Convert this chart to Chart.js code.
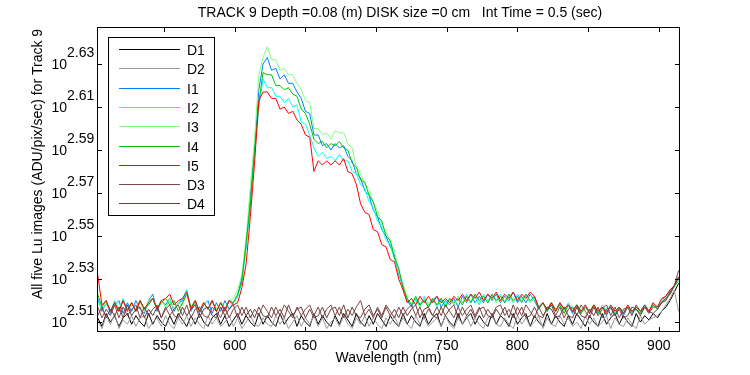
<!DOCTYPE html>
<html lang="en">
<head>
<meta charset="UTF-8">
<title>TRACK 9 Lu images</title>
<script src="https://cdn.jsdelivr.net/npm/chart.js"></script>
<style>
  body { margin: 0; background: #fff; }
  #wrap { width: 750px; height: 375px; }
</style>
</head>
<body>
<div id="wrap"><canvas id="luChart" width="750" height="375"></canvas></div>
<script>
// wavelength grid (nm)
const wavelengths = [503, 506, 509, 512, 515, 518, 521, 524, 527, 530, 533, 536, 539, 542, 545, 548, 551, 554, 557, 560,
  563, 566, 569, 572, 575, 578, 581, 584, 587, 590, 593, 596, 599, 602, 605, 608, 611, 614, 617, 620,
  623, 626, 629, 632, 635, 638, 641, 644, 647, 650, 653, 656, 659, 662, 665, 668, 671, 674, 677, 680,
  683, 686, 689, 692, 695, 698, 701, 704, 707, 710, 713, 716, 719, 722, 725, 728, 731, 734, 737, 740,
  743, 746, 749, 752, 755, 758, 761, 764, 767, 770, 773, 776, 779, 782, 785, 788, 791, 794, 797, 800,
  803, 806, 809, 812, 815, 818, 821, 824, 827, 830, 833, 836, 839, 842, 845, 848, 851, 854, 857, 860,
  863, 866, 869, 872, 875, 878, 881, 884, 887, 890, 893, 896, 899, 902, 905, 908, 911, 914];

// values, as log10 exponents
const d1 = [2.512, 2.508, 2.514, 2.510, 2.513, 2.508, 2.512, 2.514, 2.509, 2.513,
  2.510, 2.508, 2.514, 2.509, 2.513, 2.510, 2.508, 2.513, 2.509, 2.514,
  2.511, 2.508, 2.513, 2.509, 2.514, 2.510, 2.508, 2.512, 2.514, 2.509,
  2.513, 2.508, 2.511, 2.514, 2.509, 2.513, 2.510, 2.508, 2.514, 2.509,
  2.513, 2.510, 2.508, 2.514, 2.509, 2.512, 2.514, 2.508, 2.513, 2.510,
  2.508, 2.514, 2.509, 2.513, 2.510, 2.508, 2.513, 2.509, 2.514, 2.511,
  2.508, 2.514, 2.510, 2.508, 2.513, 2.509, 2.514, 2.511, 2.508, 2.513,
  2.510, 2.508, 2.514, 2.509, 2.513, 2.510, 2.508, 2.514, 2.509, 2.512,
  2.514, 2.508, 2.513, 2.510, 2.508, 2.514, 2.509, 2.512, 2.514, 2.509,
  2.513, 2.510, 2.508, 2.514, 2.509, 2.513, 2.511, 2.508, 2.514, 2.509,
  2.512, 2.514, 2.508, 2.513, 2.510, 2.508, 2.514, 2.509, 2.513, 2.510,
  2.508, 2.513, 2.509, 2.514, 2.511, 2.508, 2.513, 2.510, 2.508, 2.514,
  2.509, 2.512, 2.514, 2.509, 2.513, 2.510, 2.508, 2.514, 2.510, 2.513,
  2.511, 2.514, 2.512, 2.515, 2.517, 2.520, 2.524, 2.528];
const d2 = [2.511, 2.507, 2.513, 2.509, 2.514, 2.507, 2.511, 2.509, 2.513, 2.508,
  2.512, 2.513, 2.507, 2.510, 2.512, 2.508, 2.513, 2.509, 2.507, 2.512,
  2.509, 2.513, 2.508, 2.512, 2.509, 2.507, 2.513, 2.509, 2.512, 2.508,
  2.510, 2.513, 2.508, 2.512, 2.507, 2.510, 2.513, 2.509, 2.508, 2.512,
  2.509, 2.508, 2.513, 2.509, 2.512, 2.507, 2.510, 2.513, 2.508, 2.512,
  2.509, 2.513, 2.508, 2.512, 2.507, 2.510, 2.512, 2.508, 2.513, 2.509,
  2.507, 2.512, 2.509, 2.513, 2.508, 2.512, 2.509, 2.507, 2.512, 2.509,
  2.513, 2.508, 2.512, 2.509, 2.507, 2.513, 2.509, 2.512, 2.508, 2.510,
  2.512, 2.508, 2.513, 2.509, 2.507, 2.512, 2.509, 2.513, 2.508, 2.512,
  2.509, 2.507, 2.512, 2.513, 2.509, 2.508, 2.512, 2.509, 2.507, 2.513,
  2.509, 2.512, 2.508, 2.510, 2.513, 2.507, 2.512, 2.509, 2.508, 2.513,
  2.509, 2.512, 2.508, 2.510, 2.507, 2.513, 2.509, 2.512, 2.508, 2.510,
  2.513, 2.507, 2.512, 2.509, 2.508, 2.512, 2.509, 2.507, 2.513, 2.509,
  2.511, 2.512, 2.513, 2.515, 2.518, 2.521, 2.525, 2.515];
const i1 = [2.521, 2.515, 2.519, 2.514, 2.518, 2.520, 2.514, 2.519, 2.515, 2.520,
  2.516, 2.514, 2.520, 2.523, 2.515, 2.520, 2.518, 2.521, 2.515, 2.519,
  2.520, 2.525, 2.515, 2.519, 2.514, 2.518, 2.520, 2.514, 2.519, 2.515,
  2.520, 2.516, 2.519,
  2.522, 2.531, 2.545, 2.569, 2.590, 2.618, 2.630, 2.633, 2.627, 2.628,
  2.623, 2.625, 2.621, 2.621, 2.617, 2.614, 2.608, 2.607, 2.597, 2.597,
  2.592, 2.593, 2.590, 2.593, 2.591, 2.592, 2.587, 2.585, 2.579, 2.577,
  2.571, 2.569, 2.562, 2.559, 2.553, 2.550, 2.545, 2.541, 2.532, 2.527,
  2.520, 2.517, 2.521, 2.518, 2.521, 2.517, 2.520, 2.522, 2.517, 2.520,
  2.518, 2.521, 2.517, 2.522, 2.519, 2.523, 2.519, 2.522, 2.519, 2.523,
  2.520, 2.523, 2.519, 2.522, 2.520, 2.524, 2.519, 2.522, 2.519, 2.523,
  2.520, 2.516, 2.519, 2.515, 2.518, 2.515, 2.519, 2.516, 2.518, 2.514,
  2.518, 2.515, 2.517, 2.514, 2.518, 2.515, 2.517, 2.513, 2.517, 2.514,
  2.517, 2.513, 2.517, 2.514, 2.516, 2.514, 2.518, 2.515, 2.518, 2.517,
  2.520, 2.522, 2.525, 2.527, 2.531];
const i2 = [2.520, 2.516, 2.519, 2.515, 2.520, 2.516, 2.521, 2.515, 2.519, 2.516,
  2.520, 2.515, 2.519, 2.521, 2.516, 2.520, 2.517, 2.520, 2.516, 2.519,
  2.521, 2.525, 2.516, 2.520, 2.515, 2.519, 2.516, 2.520, 2.515, 2.519,
  2.516, 2.520, 2.519,
  2.522, 2.528, 2.545, 2.564, 2.588, 2.610, 2.623, 2.619, 2.619, 2.615,
  2.615, 2.612, 2.614, 2.610, 2.611, 2.603, 2.602, 2.597, 2.591, 2.587,
  2.589, 2.586, 2.587, 2.585, 2.588, 2.585, 2.585, 2.580, 2.579, 2.574,
  2.572, 2.566, 2.563, 2.557, 2.554, 2.548, 2.546, 2.539, 2.534, 2.525,
  2.521, 2.518, 2.521, 2.517, 2.522, 2.518, 2.521, 2.517, 2.521, 2.518,
  2.521, 2.518, 2.522, 2.519, 2.523, 2.519, 2.522, 2.518, 2.523, 2.519,
  2.522, 2.520, 2.523, 2.519, 2.522, 2.519, 2.523, 2.520, 2.522, 2.519,
  2.522, 2.517, 2.519, 2.516, 2.519, 2.515, 2.518, 2.515, 2.519, 2.516,
  2.517, 2.514, 2.518, 2.515, 2.517, 2.514, 2.518, 2.515, 2.516, 2.514,
  2.517, 2.515, 2.517, 2.514, 2.517, 2.515, 2.518, 2.515, 2.519, 2.516,
  2.519, 2.521, 2.524, 2.526, 2.530];
const i3 = [2.519, 2.516, 2.519, 2.515, 2.519, 2.516, 2.520, 2.515, 2.518, 2.516,
  2.519, 2.515, 2.520, 2.521, 2.516, 2.520, 2.517, 2.521, 2.516, 2.519,
  2.518, 2.523, 2.516, 2.519, 2.515, 2.519, 2.516, 2.520, 2.516, 2.519,
  2.516, 2.520, 2.521,
  2.525, 2.532, 2.549, 2.573, 2.595, 2.625, 2.633, 2.638, 2.632, 2.632,
  2.627, 2.628, 2.625, 2.625, 2.621, 2.618, 2.613, 2.612, 2.600, 2.600,
  2.597, 2.598, 2.595, 2.599, 2.598, 2.598, 2.593, 2.591, 2.582, 2.579,
  2.574, 2.572, 2.565, 2.562, 2.555, 2.552, 2.547, 2.543, 2.533, 2.528,
  2.521, 2.518, 2.520, 2.517, 2.521, 2.518, 2.521, 2.518, 2.520, 2.517,
  2.521, 2.518, 2.522, 2.519, 2.522, 2.520, 2.523, 2.519, 2.522, 2.520,
  2.523, 2.519, 2.522, 2.520, 2.523, 2.519, 2.522, 2.520, 2.523, 2.519,
  2.521, 2.517, 2.519, 2.516, 2.519, 2.515, 2.518, 2.515, 2.518, 2.516,
  2.518, 2.515, 2.517, 2.514, 2.518, 2.515, 2.517, 2.514, 2.517, 2.515,
  2.516, 2.514, 2.517, 2.515, 2.517, 2.514, 2.517, 2.515, 2.518, 2.517,
  2.520, 2.521, 2.524, 2.526, 2.530];
const i4 = [2.523, 2.517, 2.520, 2.515, 2.519, 2.515, 2.520, 2.516, 2.519, 2.515,
  2.520, 2.516, 2.518, 2.521, 2.516, 2.519, 2.521, 2.518, 2.520, 2.515,
  2.519, 2.523, 2.517, 2.520, 2.515, 2.519, 2.516, 2.520, 2.515, 2.519,
  2.516, 2.520, 2.519,
  2.523, 2.529, 2.547, 2.565, 2.590, 2.612, 2.626, 2.625, 2.625, 2.620,
  2.620, 2.618, 2.619, 2.616, 2.615, 2.609, 2.607, 2.602, 2.595, 2.593,
  2.594, 2.591, 2.593, 2.592, 2.594, 2.591, 2.590, 2.584, 2.582, 2.576,
  2.575, 2.569, 2.566, 2.559, 2.557, 2.550, 2.548, 2.540, 2.535, 2.526,
  2.521, 2.518, 2.522, 2.518, 2.520, 2.517, 2.521, 2.518, 2.521, 2.517,
  2.521, 2.519, 2.521, 2.518, 2.522, 2.519, 2.523, 2.520, 2.522, 2.519,
  2.523, 2.520, 2.522, 2.519, 2.523, 2.520, 2.522, 2.519, 2.523, 2.520,
  2.522, 2.516, 2.519, 2.515, 2.519, 2.516, 2.518, 2.514, 2.518, 2.515,
  2.518, 2.514, 2.517, 2.515, 2.518, 2.514, 2.517, 2.515, 2.517, 2.513,
  2.517, 2.514, 2.517, 2.515, 2.516, 2.514, 2.517, 2.515, 2.518, 2.516,
  2.519, 2.521, 2.523, 2.527, 2.529];
const i5 = [2.532, 2.518, 2.520, 2.515, 2.519, 2.515, 2.520, 2.515, 2.519, 2.515,
  2.520, 2.516, 2.519, 2.521, 2.516, 2.520, 2.521, 2.523, 2.518, 2.520,
  2.521, 2.524, 2.516, 2.520, 2.515, 2.519, 2.516, 2.520, 2.515, 2.519,
  2.515, 2.520, 2.518,
  2.519, 2.526, 2.537, 2.559, 2.584, 2.613, 2.617, 2.617, 2.614, 2.614,
  2.609, 2.610, 2.607, 2.608, 2.604, 2.602, 2.597, 2.596, 2.580, 2.585,
  2.583, 2.585, 2.583, 2.585, 2.583, 2.586, 2.580, 2.579, 2.574, 2.565,
  2.561, 2.560, 2.553, 2.552, 2.546, 2.545, 2.539, 2.538, 2.530, 2.525,
  2.519, 2.521, 2.518, 2.522, 2.519, 2.522, 2.519, 2.522, 2.519, 2.521,
  2.519, 2.522, 2.520, 2.523, 2.520, 2.523, 2.521, 2.524, 2.520, 2.523,
  2.521, 2.524, 2.520, 2.523, 2.521, 2.524, 2.520, 2.523, 2.521, 2.524,
  2.522, 2.517, 2.519, 2.516, 2.519, 2.515, 2.519, 2.516, 2.518, 2.515,
  2.518, 2.515, 2.518, 2.514, 2.518, 2.515, 2.517, 2.514, 2.518, 2.515,
  2.517, 2.514, 2.518, 2.515, 2.517, 2.515, 2.518, 2.515, 2.519, 2.517,
  2.521, 2.522, 2.525, 2.527, 2.531];
const d3 = [2.517, 2.512, 2.516, 2.513, 2.518, 2.512, 2.517, 2.513, 2.516, 2.518,
  2.512, 2.517, 2.513, 2.516, 2.518, 2.512, 2.517, 2.513, 2.516, 2.518,
  2.513, 2.518, 2.512, 2.516, 2.517, 2.513, 2.512, 2.517, 2.515, 2.512,
  2.517, 2.512, 2.516, 2.518, 2.513, 2.517, 2.512, 2.516, 2.513, 2.518,
  2.515, 2.512, 2.517, 2.513, 2.518, 2.515, 2.512, 2.517, 2.513, 2.516,
  2.518, 2.513, 2.517, 2.512, 2.516, 2.518, 2.513, 2.517, 2.512, 2.516,
  2.513, 2.517, 2.520, 2.513, 2.516, 2.512, 2.517, 2.513, 2.518, 2.515,
  2.512, 2.517, 2.513, 2.516, 2.518, 2.513, 2.517, 2.512, 2.516, 2.513,
  2.517, 2.513, 2.518, 2.515, 2.512, 2.517, 2.513, 2.516, 2.518, 2.513,
  2.517, 2.512, 2.516, 2.513, 2.517, 2.518, 2.513, 2.516, 2.512, 2.517,
  2.513, 2.518, 2.515, 2.512, 2.517, 2.513, 2.516, 2.518, 2.513, 2.517,
  2.512, 2.516, 2.517, 2.513, 2.518, 2.515, 2.512, 2.517, 2.513, 2.516,
  2.518, 2.513, 2.517, 2.512, 2.516, 2.517, 2.513, 2.518, 2.515, 2.517,
  2.514, 2.517, 2.517, 2.519, 2.521, 2.523, 2.527, 2.534];
const d4 = [2.513, 2.517, 2.512, 2.516, 2.513, 2.517, 2.512, 2.518, 2.513, 2.516,
  2.517, 2.512, 2.516, 2.513, 2.517, 2.512, 2.516, 2.518, 2.513, 2.512,
  2.517, 2.513, 2.516, 2.518, 2.512, 2.516, 2.517, 2.513, 2.512, 2.517,
  2.513, 2.516, 2.518, 2.512, 2.517, 2.513, 2.516, 2.512, 2.517, 2.513,
  2.512, 2.517, 2.513, 2.516, 2.512, 2.518, 2.513, 2.516, 2.517, 2.512,
  2.516, 2.512, 2.513, 2.517, 2.512, 2.516, 2.517, 2.513, 2.518, 2.512,
  2.517, 2.513, 2.512, 2.516, 2.518, 2.513, 2.516, 2.512, 2.517, 2.513,
  2.516, 2.512, 2.517, 2.513, 2.516, 2.518, 2.512, 2.516, 2.517, 2.513,
  2.512, 2.517, 2.513, 2.516, 2.518, 2.512, 2.517, 2.513, 2.516, 2.512,
  2.516, 2.517, 2.513, 2.512, 2.516, 2.513, 2.517, 2.512, 2.518, 2.513,
  2.517, 2.512, 2.513, 2.517, 2.513, 2.512, 2.517, 2.516, 2.512, 2.513,
  2.517, 2.513, 2.512, 2.517, 2.513, 2.512, 2.516, 2.513, 2.517, 2.512,
  2.516, 2.517, 2.513, 2.516, 2.512, 2.513, 2.517, 2.516, 2.513, 2.517,
  2.515, 2.514, 2.516, 2.519, 2.520, 2.524, 2.527, 2.531];

const seriesNames = ['D1', 'D2', 'I1', 'I2', 'I3', 'I4', 'I5', 'D3', 'D4'];
const seriesExps = [d1, d2, i1, i2, i3, i4, i5, d3, d4];
const seriesColors = ['#000000', '#999999', '#0080ff', '#00ffff', '#80ff80', '#00c000', '#ff0000', '#7f4646', '#703c3c'];

const xTicks = [550, 600, 650, 700, 750, 800, 850, 900];
const yTickExps = [2.51, 2.53, 2.55, 2.57, 2.59, 2.61, 2.63];
const yTickLabels = ['2.51', '2.53', '2.55', '2.57', '2.59', '2.61', '2.63'];

const titleText = 'TRACK 9 Depth =0.08 (m) DISK size =0 cm   Int Time = 0.5 (sec)';
const yTitle = 'All five Lu images (ADU/pix/sec) for Track 9';
const xTitle = 'Wavelength (nm)';

const FAMILY = '"Liberation Sans", Arial, Helvetica, sans-serif';
Chart.defaults.font.family = FAMILY;
Chart.defaults.font.size = 14;
Chart.defaults.color = '#000';

// box, inward ticks, y labels with superscript, titles and legend (matlab look)
const matlabFrame = {
  id: 'matlabFrame',
  afterDraw(chart) {
    const { ctx, chartArea: a, scales: { x, y } } = chart;
    ctx.save();
    ctx.strokeStyle = '#000';
    ctx.lineWidth = 1;
    ctx.strokeRect(a.left + 0.5, a.top + 0.5, a.right - a.left - 1, a.bottom - a.top - 1);

    ctx.beginPath();
    xTicks.forEach(v => {
      const px = Math.round(x.getPixelForValue(v)) + 0.5;
      ctx.moveTo(px, a.bottom); ctx.lineTo(px, a.bottom - 5);
      ctx.moveTo(px, a.top); ctx.lineTo(px, a.top + 5);
    });
    yTickExps.forEach(e => {
      const py = Math.round(y.getPixelForValue(10 ** e)) + 0.5;
      ctx.moveTo(a.left, py); ctx.lineTo(a.left + 5, py);
      ctx.moveTo(a.right, py); ctx.lineTo(a.right - 5, py);
    });
    ctx.stroke();

    ctx.fillStyle = '#000';
    ctx.font = '14px ' + FAMILY;
    ctx.textBaseline = 'alphabetic';
    yTickExps.forEach((e, k) => {
      const py = y.getPixelForValue(10 ** e);
      ctx.textAlign = 'right';
      ctx.fillText('10', 67, py + 5);
      ctx.textAlign = 'left';
      ctx.fillText(yTickLabels[k], 67, py - 7);
    });

    // title
    ctx.textAlign = 'center';
    ctx.fillText(titleText, 400, 17);

    // y axis title
    ctx.save();
    ctx.translate(42, 164);
    ctx.rotate(-Math.PI / 2);
    ctx.fillText(yTitle, 0, 0);
    ctx.restore();

    // legend
    ctx.fillStyle = '#fff';
    ctx.fillRect(108, 37, 107, 179);
    ctx.strokeRect(108.5, 37.5, 106, 178);
    ctx.textAlign = 'left';
    seriesNames.forEach((name, k) => {
      const ly = Math.round(49 + k * 19.3) + 0.5;
      ctx.strokeStyle = seriesColors[k];
      ctx.beginPath();
      ctx.moveTo(119, ly); ctx.lineTo(180, ly);
      ctx.stroke();
      ctx.fillStyle = '#000';
      ctx.fillText(name, 187, ly + 5);
    });
    ctx.restore();
  }
};

const datasets = seriesNames.map((name, k) => ({
  label: name,
  data: wavelengths.map((w, i) => ({ x: w, y: 10 ** seriesExps[k][i] })),
  borderColor: seriesColors[k],
  backgroundColor: seriesColors[k],
  borderWidth: 1,
  pointRadius: 0,
  tension: 0,
  order: seriesNames.length - 1 - k
}));

new Chart(document.getElementById('luChart'), {
  type: 'line',
  data: { datasets },
  options: {
    responsive: false,
    animation: false,
    devicePixelRatio: 1,
    layout: { padding: { left: 97, right: 70, top: 27, bottom: 0 } },
    plugins: {
      legend: { display: false },
      tooltip: { enabled: false },
      title: { display: false }
    },
    scales: {
      x: {
        type: 'linear',
        min: 502.5,
        max: 915,
        afterFit: s => { s.height = 43; },
        afterBuildTicks: s => { s.ticks = xTicks.map(v => ({ value: v })); },
        ticks: { color: '#000', padding: 6, maxRotation: 0, autoSkip: false, callback: v => String(v) },
        grid: { display: false, drawTicks: false },
        border: { display: false },
        title: { display: true, text: xTitle, color: '#000', padding: { top: 0, bottom: 8 } }
      },
      y: {
        type: 'logarithmic',
        display: false,
        min: 10 ** 2.5054,
        max: 10 ** 2.6472
      }
    }
  },
  plugins: [matlabFrame]
});
</script>
</body>
</html>
